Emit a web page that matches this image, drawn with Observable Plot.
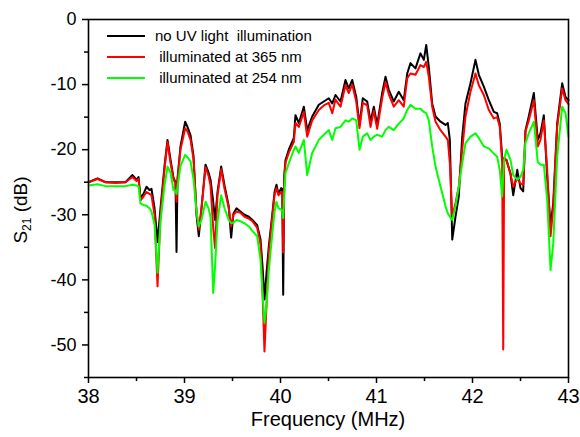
<!DOCTYPE html>
<html><head><meta charset="utf-8">
<script src="https://cdn.jsdelivr.net/npm/d3@7"></script>
<script src="https://cdn.jsdelivr.net/npm/@observablehq/plot@0.6"></script>
<style>
body{margin:0;background:#fff;font-family:"Liberation Sans",Arial,sans-serif;}
#wrap{position:relative;width:580px;height:437px;}
.legend{position:absolute;left:107px;top:25px;font-size:15px;color:#000;}
.legend .row{height:21px;display:flex;align-items:center;}
.legend .sw{width:38px;height:2px;margin-right:10px;}
.ylab{position:absolute;left:22px;top:210px;transform:translate(-50%,-50%) rotate(-90deg);font-size:19px;white-space:nowrap;}
.ylab sub{font-size:12px;}
.xlab{position:absolute;left:328px;top:408px;transform:translateX(-50%);font-size:20px;white-space:nowrap;}
</style></head><body><div id="wrap"></div>
<script>
const freq=[38.000,38.094,38.177,38.281,38.385,38.458,38.500,38.521,38.542,38.573,38.604,38.635,38.656,38.688,38.719,38.750,38.792,38.823,38.854,38.885,38.906,38.917,38.927,38.958,39.007,39.031,39.063,39.094,39.125,39.149,39.177,39.219,39.250,39.271,39.299,39.318,39.344,39.382,39.417,39.461,39.486,39.510,39.542,39.583,39.625,39.670,39.708,39.757,39.792,39.813,39.833,39.854,39.878,39.914,39.938,39.958,39.979,40.007,40.018,40.028,40.039,40.052,40.086,40.139,40.156,40.191,40.243,40.278,40.330,40.399,40.451,40.503,40.539,40.573,40.625,40.677,40.711,40.747,40.789,40.823,40.857,40.903,40.938,40.972,41.007,41.059,41.094,41.128,41.180,41.232,41.284,41.320,41.354,41.406,41.458,41.493,41.518,41.545,41.580,41.615,41.667,41.719,41.743,41.764,41.789,41.823,41.857,41.893,41.927,41.979,42.031,42.066,42.118,42.170,42.222,42.257,42.284,42.309,42.320,42.330,42.354,42.396,42.424,42.466,42.500,42.528,42.552,42.586,42.639,42.680,42.708,42.743,42.778,42.813,42.841,42.882,42.934,42.969,43.000];
const noUV=[-25.0,-24.4,-25.0,-25.0,-25.0,-23.9,-24.6,-24.2,-27.4,-26.8,-25.7,-26.2,-26.0,-29.0,-34.2,-29.0,-22.5,-18.5,-21.5,-24.3,-25.0,-35.7,-24.5,-19.5,-15.7,-16.5,-17.8,-21.0,-30.0,-33.3,-29.0,-22.3,-23.5,-24.6,-28.0,-30.8,-26.5,-22.6,-25.5,-28.7,-33.5,-29.8,-29.0,-29.5,-30.0,-30.3,-30.8,-31.6,-33.8,-38.0,-43.0,-39.0,-34.9,-30.0,-26.5,-25.4,-26.8,-25.9,-26.0,-42.3,-24.0,-21.6,-20.0,-18.2,-14.7,-15.9,-13.4,-17.0,-14.9,-13.1,-12.6,-12.1,-12.9,-11.6,-12.6,-9.3,-10.6,-9.3,-11.9,-16.2,-12.1,-12.6,-15.7,-13.4,-16.2,-11.3,-8.8,-10.8,-12.6,-11.1,-12.4,-8.3,-6.7,-7.5,-5.2,-6.2,-3.9,-7.3,-12.9,-14.9,-15.7,-16.2,-15.9,-18.5,-33.8,-30.3,-27.2,-18.0,-12.9,-9.8,-6.2,-8.5,-10.3,-12.4,-14.2,-14.4,-16.0,-21.1,-22.0,-21.3,-21.6,-23.7,-27.0,-23.1,-25.9,-26.4,-17.0,-14.9,-11.3,-18.5,-17.5,-14.7,-24.2,-31.8,-28.2,-16.0,-9.8,-11.9,-12.4];
const uv365=[-25.0,-24.5,-25.0,-25.1,-25.0,-24.2,-24.8,-24.5,-27.8,-27.2,-26.5,-26.8,-27.0,-30.0,-41.0,-30.0,-23.0,-18.8,-22.0,-24.5,-25.2,-28.0,-24.8,-20.0,-16.7,-17.2,-18.5,-21.5,-29.5,-32.3,-29.0,-22.7,-24.0,-25.5,-32.0,-35.1,-27.0,-23.0,-26.0,-29.0,-31.8,-30.0,-29.5,-29.7,-30.3,-30.6,-31.0,-32.0,-34.5,-42.0,-51.0,-44.0,-35.8,-30.5,-27.0,-25.9,-27.0,-26.5,-26.5,-35.8,-24.5,-22.0,-20.5,-18.8,-15.9,-16.5,-14.2,-18.0,-15.5,-13.9,-13.2,-12.8,-14.4,-12.3,-13.4,-10.1,-11.3,-10.0,-12.6,-16.7,-12.8,-13.2,-16.5,-14.0,-16.8,-12.1,-9.6,-11.5,-13.4,-12.4,-13.4,-9.0,-8.3,-8.5,-7.0,-7.3,-6.5,-8.8,-13.4,-15.7,-17.0,-18.0,-18.5,-22.1,-30.3,-28.2,-25.7,-20.0,-14.9,-11.1,-8.3,-10.1,-11.6,-13.9,-15.2,-15.0,-16.5,-22.0,-50.7,-21.5,-21.6,-23.7,-25.7,-24.4,-25.2,-25.4,-17.2,-15.5,-12.4,-19.5,-18.5,-15.5,-23.1,-33.3,-29.0,-16.5,-10.6,-12.4,-13.0];
const uv254=[-25.5,-25.3,-25.6,-25.6,-25.6,-25.4,-25.5,-25.6,-28.3,-28.5,-28.6,-29.0,-29.5,-31.5,-38.9,-31.0,-25.5,-22.6,-23.5,-26.2,-26.3,-26.8,-25.8,-22.5,-20.8,-21.2,-21.8,-24.5,-29.5,-31.8,-30.8,-28.0,-29.0,-30.3,-42.0,-38.0,-31.0,-27.0,-29.0,-30.8,-31.3,-31.2,-30.8,-31.0,-31.3,-31.8,-32.5,-33.3,-36.9,-42.0,-46.6,-44.0,-38.5,-33.0,-29.5,-28.0,-29.0,-29.2,-29.5,-30.5,-27.0,-23.6,-22.1,-20.0,-19.5,-20.5,-18.5,-23.9,-20.5,-18.5,-17.7,-17.0,-18.5,-16.7,-16.5,-15.5,-15.7,-15.2,-15.5,-20.0,-18.0,-17.5,-18.5,-18.0,-17.7,-18.0,-17.0,-16.5,-17.0,-16.0,-15.2,-13.9,-13.1,-13.7,-13.7,-14.2,-14.4,-15.5,-19.5,-22.6,-25.7,-28.7,-29.8,-30.3,-30.8,-28.7,-25.7,-22.1,-19.0,-18.0,-17.5,-18.2,-19.5,-19.8,-20.6,-21.1,-23.1,-27.2,-24.0,-21.5,-20.0,-21.6,-23.9,-24.6,-24.2,-23.1,-19.0,-17.5,-15.7,-21.9,-22.3,-22.3,-27.7,-38.5,-34.4,-21.1,-13.4,-14.4,-18.0];
const xTicks=[38,39,40,41,42,43];
const xMinor=[38.5,39.5,40.5,41.5,42.5];
const yTicks=[0,-10,-20,-30,-40,-50];
const yMinor=[-5,-15,-25,-35,-45,-55];
const seriesNames=["no UV light\u00a0 illumination","\u00a0illuminated at 365 nm","\u00a0illuminated at 254 nm"];
const colors=["#000000","#ff0000","#00ff00"];
const xLabel="Frequency (MHz)";

const table=freq.map((f,i)=>({f,a:noUV[i],b:uv365[i],c:uv254[i]}));
const chart=Plot.plot({
  width:580,height:437,marginLeft:88,marginRight:12,marginTop:19,marginBottom:60,
  x:{domain:[38,43]},
  y:{domain:[-55,0]},
  style:{fontFamily:'"Liberation Sans",Arial,sans-serif',color:"#000",background:"transparent"},
  marks:[
    Plot.line(table,{x:"f",y:"a",stroke:colors[0],strokeWidth:2}),
    Plot.line(table,{x:"f",y:"b",stroke:colors[1],strokeWidth:2}),
    Plot.line(table,{x:"f",y:"c",stroke:colors[2],strokeWidth:2}),
    Plot.frame({stroke:"#000",strokeWidth:1.6}),
    Plot.axisX(xTicks,{tickSize:6,tickPadding:5,fontSize:20,label:null,strokeWidth:1.5,tickFormat:d=>String(d)}),
    Plot.axisX(xMinor,{tickSize:4,text:null,label:null,strokeWidth:1.5}),
    Plot.axisY(yTicks,{tickSize:6,tickPadding:6,fontSize:18,label:null,strokeWidth:1.5,tickFormat:d=>String(d)}),
    Plot.axisY(yMinor,{tickSize:4,text:null,label:null,strokeWidth:1.5})
  ]
});
const wrap=document.getElementById("wrap");
wrap.appendChild(chart);
const leg=document.createElement("div");leg.className="legend";
seriesNames.forEach((n,i)=>{
  const r=document.createElement("div");r.className="row";
  const s=document.createElement("div");s.className="sw";s.style.background=colors[i];
  const t=document.createElement("span");t.textContent=n;
  r.appendChild(s);r.appendChild(t);leg.appendChild(r);
});
wrap.appendChild(leg);
const yl=document.createElement("div");yl.className="ylab";yl.innerHTML="S<sub>21</sub> (dB)";wrap.appendChild(yl);
const xl=document.createElement("div");xl.className="xlab";xl.textContent=xLabel;wrap.appendChild(xl);
</script></body></html>
